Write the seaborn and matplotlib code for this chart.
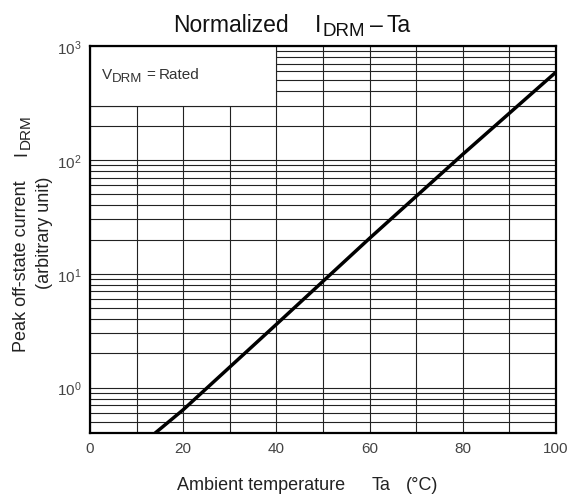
import matplotlib
matplotlib.use("Agg")
import matplotlib.pyplot as plt
import seaborn as sns
import pandas as pd
from matplotlib.patches import Rectangle
from matplotlib.ticker import FixedLocator, NullFormatter
from matplotlib.transforms import IdentityTransform

temperature = [14, 20, 40, 60, 80, 100]
current = [0.4, 0.64, 3.6, 20.5, 112, 590]
x_ticks = [0, 20, 40, 60, 80, 100]

sns.set_style("white")
plt.rcParams['font.family'] = ['Liberation Sans', 'DejaVu Sans']
plt.rcParams['mathtext.fontset'] = 'custom'
plt.rcParams['mathtext.rm'] = 'Liberation Sans'

W, H = 575, 502
df = pd.DataFrame({"Ta": temperature, "I": current})

fig = plt.figure(figsize=(W / 100, H / 100), dpi=100)
ax = fig.add_axes([90 / W, (H - 434) / H, (556 - 90) / W, (434 - 47) / H])

sns.lineplot(data=df, x="Ta", y="I", ax=ax, color="black", linewidth=2.5, zorder=3)
ax.set_yscale("log")
ax.set_xlim(0, 100)
ax.set_ylim(0.4, 1000)

ax.set_xticks(x_ticks)
ax.xaxis.set_minor_locator(FixedLocator([10, 30, 50, 70, 90]))
ax.grid(True, which="both", axis="both", color="#222222", linewidth=0.8)
ax.set_axisbelow(True)
ax.tick_params(which="both", length=0, labelsize=11, labelcolor="#444444", pad=6)
ax.yaxis.set_minor_formatter(NullFormatter())
ax.set_xlabel("")
ax.set_ylabel("")

for s in ax.spines.values():
    s.set_color("black")
    s.set_linewidth(1.6)

box = Rectangle((0, 300), 40, 700, facecolor="white", edgecolor="#222222",
                linewidth=0.8, zorder=1)
ax.add_patch(box)

renderer = fig.canvas.get_renderer()


def rich(x, y, pieces, color, rotation=0, anchor="start"):
    """Place text pieces (string, size, drop_px, gap_px) along a baseline.
    x, y in reference pixel coordinates (y from top)."""
    texts = []
    lengths = []
    for s, size, drop, gap in pieces:
        t = fig.text(0, 0, s, fontsize=size, color=color, rotation=rotation,
                     rotation_mode="anchor", ha="left", va="baseline",
                     transform=IdentityTransform())
        ext = t.get_window_extent(renderer=renderer)
        lengths.append(ext.height if rotation == 90 else ext.width)
        texts.append(t)
    total = sum(l + p[3] for l, p in zip(lengths, pieces))
    pos = 0.0 if anchor == "start" else -total / 2
    yd = H - y
    for t, l, (s, size, drop, gap) in zip(texts, lengths, pieces):
        pos += gap
        if rotation == 90:
            t.set_position((x + drop, yd + pos))
        else:
            t.set_position((x + pos, yd - drop))
        pos += l


# title
rich(173, 32, [("Normalized", 16.5, 0, 0), ("I", 16.5, 0, 26),
               ("DRM", 13.5, 4, 2), ("–", 16.5, 0, 4), ("Ta", 16.5, 0, 4)],
     "#111111")
# box text
rich(102, 79, [("V", 11, 0, 0), ("DRM", 9.5, 3, 0), ("=", 11, 0, 4),
               ("Rated", 11, 0, 3)], "#333333")
# x label
rich(177, 490, [("Ambient temperature", 13, 0, 0), ("Ta", 13, 0, 26),
                ("(°C)", 13, 0, 16)], "#222222")
# y label
rich(26, 233, [("Peak off-state current", 13, 0, 0), ("I", 13, 0, 24),
               ("DRM", 11, 4, 2)], "#222222", rotation=90, anchor="center")
rich(49, 233, [("(arbitrary unit)", 13, 0, 0)], "#222222", rotation=90,
     anchor="center")

fig.savefig("out.png", dpi=100)
